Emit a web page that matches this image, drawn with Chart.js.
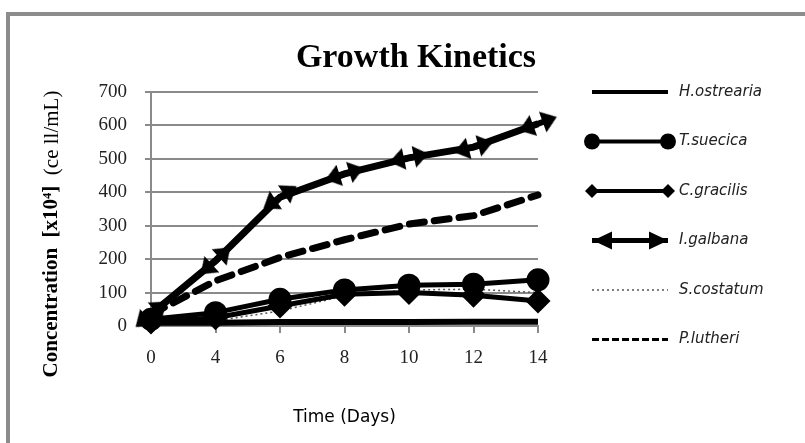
<!DOCTYPE html>
<html>
<head>
<meta charset="utf-8">
<script src="https://cdn.jsdelivr.net/npm/chart.js@4/dist/chart.umd.min.js"></script>
<style>
  html, body { margin: 0; padding: 0; background: #fff; }
  #wrap { width: 805px; height: 443px; position: relative; }
</style>
</head>
<body>
<div id="wrap"><canvas id="myChart"></canvas></div>
<script>
// days on the category axis
var days = ["0", "4", "6", "8", "10", "12", "14"];
var yTicks = [0, 100, 200, 300, 400, 500, 600, 700];

// concentration x10^4 cell/mL
var hOstrearia = [10, 10, 12, 12, 12, 13, 13];
var tSuecica = [20, 40, 80, 108, 122, 125, 138];
var cGracilis = [12, 25, 60, 95, 100, 92, 75];
var iGalbana = [35, 195, 385, 455, 503, 535, 605];
var sCostatum = [5, 15, 45, 90, 108, 110, 100];
var pLutheri = [35, 135, 205, 258, 305, 330, 392];

var names = ["H.ostrearia", "T.suecica", "C.gracilis", "I.galbana", "S.costatum", "P.lutheri"];

// double arrow marker
function makeArrow(w, h) {
    var c = document.createElement("canvas");
    c.width = w; c.height = h;
    var g = c.getContext("2d");
    g.fillStyle = "#000";
    g.beginPath();
    g.moveTo(0, h / 2); g.lineTo(15, 0); g.lineTo(15, h); g.closePath();
    g.moveTo(w, h / 2); g.lineTo(w - 15, 0); g.lineTo(w - 15, h); g.closePath();
    g.fill();
    g.fillRect(12, h / 2 - 3, w - 24, 6);
    return c;
}
var arrow = makeArrow(40, 22);

function slopeAngle(ctx) {
    var i = ctx.dataIndex;
    var d = ctx.dataset.data;
    var xs = ctx.chart.scales.x, ys = ctx.chart.scales.y;
    if (!xs || !ys) return 0;
    var a = Math.max(i - 1, 0), b = Math.min(i + 1, d.length - 1);
    var dx = xs.getPixelForValue(b) - xs.getPixelForValue(a);
    var dy = ys.getPixelForValue(d[b]) - ys.getPixelForValue(d[a]);
    return Math.atan2(dy, dx) * 180 / Math.PI;
}

var extras = {
    id: "extras",
    afterDraw: function (chart) {
        var ctx = chart.ctx;
        var area = chart.chartArea;
        ctx.save();

        // frame
        ctx.strokeStyle = "#8c8c8c";
        ctx.lineWidth = 4;
        ctx.beginPath();
        ctx.moveTo(8, chart.height);
        ctx.lineTo(8, 14);
        ctx.lineTo(chart.width, 14);
        ctx.stroke();

        // title
        ctx.fillStyle = "#000";
        ctx.textAlign = "center";
        ctx.textBaseline = "alphabetic";
        ctx.font = "bold 34px 'Liberation Serif'";
        ctx.fillText("Growth Kinetics", 416, 67);

        // x title
        ctx.font = "17px 'DejaVu Sans'";
        ctx.textBaseline = "middle";
        ctx.fillText("Time (Days)", (area.left + area.right) / 2, 418);

        // y title, bold part then normal part
        ctx.save();
        ctx.translate(52, 234);
        ctx.rotate(-Math.PI / 2);
        var p1 = "Concentration  [x10\u2074]  ", p2 = "(ce ll/mL)";
        ctx.font = "bold 21px 'Liberation Serif'";
        var w1 = ctx.measureText(p1).width;
        ctx.font = "21px 'Liberation Serif'";
        var w2 = ctx.measureText(p2).width;
        var sx = -(w1 + w2) / 2;
        ctx.textAlign = "left";
        ctx.font = "bold 21px 'Liberation Serif'";
        ctx.fillText(p1, sx, 0);
        ctx.font = "21px 'Liberation Serif'";
        ctx.fillText(p2, sx + w1, 0);
        ctx.restore();

        // legend
        var x0 = 592, x1 = 668;
        chart.data.datasets.forEach(function (ds, i) {
            var y = 92 + i * 49.5;
            ctx.save();
            ctx.strokeStyle = ds.borderColor;
            ctx.lineWidth = ds.legendWidth;
            ctx.setLineDash(ds.legendDash || []);
            ctx.beginPath();
            ctx.moveTo(x0, y);
            ctx.lineTo(x1, y);
            ctx.stroke();
            ctx.setLineDash([]);
            ctx.fillStyle = "#000";
            if (ds.pointStyle === "circle" && ds.pointRadius > 0) {
                [x0, x1].forEach(function (x) {
                    ctx.beginPath(); ctx.arc(x, y, 8, 0, Math.PI * 2); ctx.fill();
                });
            } else if (ds.pointStyle === "rectRot") {
                [x0, x1].forEach(function (x) {
                    ctx.beginPath();
                    ctx.moveTo(x - 7, y); ctx.lineTo(x, y - 7); ctx.lineTo(x + 7, y); ctx.lineTo(x, y + 7);
                    ctx.closePath(); ctx.fill();
                });
            } else if (ds.pointStyle === arrow) {
                ctx.beginPath();
                ctx.moveTo(x0 + 1, y); ctx.lineTo(x0 + 20, y - 9); ctx.lineTo(x0 + 20, y + 9); ctx.closePath();
                ctx.moveTo(x1, y); ctx.lineTo(x1 - 19, y - 9); ctx.lineTo(x1 - 19, y + 9); ctx.closePath();
                ctx.fill();
            }
            ctx.restore();
            ctx.fillStyle = "#222";
            ctx.textAlign = "left";
            ctx.textBaseline = "middle";
            ctx.font = "italic 15px 'DejaVu Sans'";
            ctx.fillText(ds.label, 679, y);
        });
        ctx.restore();
    }
};

var config = {
    type: "line",
    data: {
        labels: days,
        datasets: [
            {
                label: names[0], data: hOstrearia,
                borderColor: "#000", borderWidth: 6, pointRadius: 0, pointStyle: "circle",
                legendWidth: 4
            },
            {
                label: names[1], data: tSuecica,
                borderColor: "#000", backgroundColor: "#000", borderWidth: 5,
                pointStyle: "circle", pointRadius: 9, legendWidth: 4
            },
            {
                label: names[2], data: cGracilis,
                borderColor: "#000", backgroundColor: "#000", borderWidth: 5,
                pointStyle: "rectRot", pointRadius: 9, legendWidth: 4
            },
            {
                label: names[3], data: iGalbana,
                borderColor: "#000", backgroundColor: "#000", borderWidth: 7,
                pointStyle: arrow, pointRadius: 10, pointRotation: slopeAngle, legendWidth: 5
            },
            {
                label: names[4], data: sCostatum,
                borderColor: "#555", borderWidth: 1.5, borderDash: [2, 3], pointRadius: 0,
                pointStyle: "line", legendWidth: 1.5, legendDash: [2, 3]
            },
            {
                label: names[5], data: pLutheri,
                borderColor: "#000", borderWidth: 7, borderDash: [15, 10], borderCapStyle: "round",
                pointRadius: 0, pointStyle: "line", legendWidth: 3, legendDash: [7, 3]
            }
        ]
    },
    options: {
        responsive: false,
        animation: false,
        devicePixelRatio: 1,
        clip: false,
        layout: { padding: { left: 0, right: 267, top: 92, bottom: 0 } },
        plugins: {
            legend: { display: false },
            title: { display: false },
            tooltip: { enabled: false }
        },
        elements: { line: { tension: 0 } },
        scales: {
            x: {
                type: "category",
                offset: false,
                grid: { display: true, drawOnChartArea: false, drawTicks: true, tickLength: 7, color: "#8a8a8a", lineWidth: 2 },
                border: { display: true, color: "#8a8a8a", width: 2 },
                ticks: {
                    color: "#222", padding: 14, maxRotation: 0, autoSkip: false,
                    font: { family: "'Liberation Serif'", size: 19 }
                },
                afterFit: function (s) { s.height = 117; }
            },
            y: {
                min: 0, max: 700,
                afterBuildTicks: function (s) { s.ticks = yTicks.map(function (v) { return { value: v }; }); },
                grid: { color: "#8a8a8a", lineWidth: 2, tickLength: 6 },
                border: { display: true, color: "#8a8a8a", width: 2 },
                ticks: {
                    color: "#222", padding: 18,
                    font: { family: "'Liberation Serif'", size: 19 }
                },
                afterFit: function (s) { s.width = 151; }
            }
        }
    },
    plugins: [extras]
};

var canvas = document.getElementById("myChart");
canvas.width = 805;
canvas.height = 443;
var myChart = new Chart(canvas, config);
</script>
</body>
</html>
